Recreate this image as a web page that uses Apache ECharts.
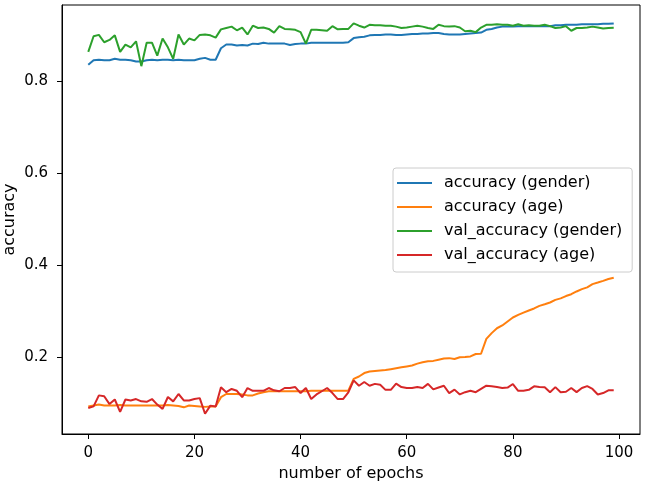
<!DOCTYPE html>
<html>
<head>
<meta charset="utf-8">
<script src="https://cdn.jsdelivr.net/npm/echarts@6/dist/echarts.min.js"></script>
<style>html,body{margin:0;padding:0;background:#fff}#c{width:645px;height:488px}</style>
</head>
<body>
<div id="c"></div>
<script>
const epochs = Array.from({length: 100}, (_, i) => i);
const xTicks = [0, 20, 40, 60, 80, 100];
const yTicks = [0.2, 0.4, 0.6, 0.8];
const seriesNames = ['accuracy (gender)', 'accuracy (age)', 'val_accuracy (gender)', 'val_accuracy (age)'];

const accGender = [0.836,0.846,0.847,0.846,0.846,0.849,0.847,0.847,0.846,0.843,
0.843,0.846,0.847,0.846,0.847,0.847,0.846,0.847,0.846,0.846,
0.846,0.849,0.851,0.847,0.847,0.872,0.880,0.880,0.878,0.879,
0.878,0.882,0.881,0.884,0.882,0.882,0.882,0.882,0.879,0.881,
0.882,0.882,0.884,0.884,0.884,0.884,0.884,0.884,0.884,0.885,
0.894,0.896,0.897,0.900,0.901,0.901,0.902,0.902,0.901,0.901,
0.902,0.903,0.903,0.904,0.904,0.905,0.905,0.903,0.902,0.902,
0.902,0.903,0.904,0.905,0.906,0.912,0.914,0.917,0.919,0.919,
0.919,0.920,0.920,0.920,0.920,0.920,0.920,0.920,0.922,0.922,
0.923,0.923,0.923,0.924,0.924,0.924,0.924,0.925,0.925,0.926];

const accAge = [0.093,0.095,0.097,0.095,0.095,0.095,0.096,0.095,0.095,0.095,
0.095,0.095,0.095,0.095,0.095,0.096,0.095,0.094,0.091,0.095,
0.094,0.093,0.092,0.093,0.093,0.113,0.120,0.120,0.120,0.119,
0.117,0.117,0.121,0.124,0.126,0.126,0.126,0.126,0.126,0.126,
0.126,0.126,0.127,0.127,0.127,0.127,0.127,0.127,0.127,0.127,
0.153,0.158,0.1655,0.169,0.170,0.171,0.172,0.174,0.176,0.178,
0.180,0.182,0.186,0.189,0.191,0.192,0.1945,0.197,0.198,0.196,
0.200,0.2003,0.2018,0.207,0.2076,0.240,0.2524,0.263,0.269,0.2777,
0.2864,0.292,0.297,0.3016,0.306,0.3117,0.3153,0.319,0.3247,0.328,
0.333,0.337,0.343,0.348,0.352,0.359,0.3624,0.366,0.370,0.373];

const valAccGender = [0.864,0.898,0.901,0.885,0.890,0.900,0.864,0.880,0.874,0.887,
0.833,0.884,0.884,0.856,0.893,0.874,0.849,0.902,0.880,0.893,
0.889,0.901,0.902,0.900,0.895,0.913,0.916,0.919,0.911,0.917,
0.902,0.921,0.916,0.917,0.914,0.906,0.920,0.914,0.913,0.912,
0.907,0.882,0.912,0.912,0.911,0.910,0.920,0.913,0.914,0.914,
0.926,0.921,0.917,0.923,0.922,0.922,0.921,0.921,0.919,0.916,
0.917,0.919,0.921,0.919,0.916,0.914,0.923,0.920,0.919,0.920,
0.917,0.909,0.910,0.907,0.917,0.923,0.923,0.924,0.923,0.923,
0.921,0.924,0.921,0.922,0.921,0.921,0.923,0.920,0.916,0.917,
0.920,0.910,0.916,0.916,0.917,0.919,0.917,0.915,0.916,0.9165];

const valAccAge = [0.0896,0.093,0.117,0.115,0.098,0.108,0.081,0.108,0.106,0.109,
0.104,0.103,0.109,0.097,0.0875,0.1135,0.104,0.120,0.106,0.106,
0.109,0.111,0.077,0.0947,0.093,0.1345,0.124,0.131,0.127,0.113,
0.133,0.127,0.127,0.127,0.133,0.128,0.126,0.133,0.133,0.135,
0.122,0.133,0.109,0.119,0.126,0.133,0.122,0.109,0.109,0.1236,
0.1496,0.138,0.146,0.138,0.142,0.140,0.129,0.129,0.1424,0.135,
0.133,0.133,0.135,0.133,0.142,0.130,0.134,0.138,0.122,0.1295,
0.119,0.124,0.127,0.124,0.131,0.138,0.1366,0.135,0.133,0.134,
0.1417,0.127,0.127,0.129,0.1367,0.135,0.1345,0.124,0.135,0.124,
0.125,0.133,0.124,0.133,0.137,0.131,0.119,0.122,0.128,0.128];

const colors = ['#1f77b4', '#ff7f0e', '#2ca02c', '#d62728'];
const allSeries = [accGender, accAge, valAccGender, valAccAge];
const FONT = '"DejaVu Sans", sans-serif';

const chart = echarts.init(document.getElementById('c'), null, {renderer: 'canvas'});
chart.setOption({
  animation: false,
  backgroundColor: '#fff',
  grid: {left: 62, right: 5, top: 5, bottom: 54, containLabel: false, outerBoundsMode: 'none',
         show: true, borderColor: '#000', borderWidth: 1, backgroundColor: 'transparent'},
  xAxis: {
    type: 'value', min: -4.95, max: 103.95,
    name: 'number of epochs', nameLocation: 'middle', nameGap: 32, nameMoveOverlap: false,
    nameTextStyle: {fontFamily: FONT, fontSize: 16, color: '#000'},
    axisLine: {show: true, onZero: false, lineStyle: {color: '#000', width: 1}},
    axisTick: {show: true, inside: false, length: 5, lineStyle: {color: '#000'}, customValues: xTicks},
    axisLabel: {fontFamily: FONT, fontSize: 15, color: '#000', margin: 12, customValues: xTicks},
    splitLine: {show: false}
  },
  yAxis: {
    type: 'value', min: 0.033, max: 0.966,
    name: 'accuracy', nameLocation: 'middle', nameGap: 44, nameRotate: 90, nameMoveOverlap: false,
    nameTextStyle: {fontFamily: FONT, fontSize: 16, color: '#000'},
    axisLine: {show: true, onZero: false, lineStyle: {color: '#000', width: 1}},
    axisTick: {show: true, inside: false, length: 5, lineStyle: {color: '#000'}, customValues: yTicks},
    axisLabel: {fontFamily: FONT, fontSize: 15, color: '#000', margin: 14, customValues: yTicks, formatter: v => v.toFixed(1)},
    splitLine: {show: false}
  },
  legend: {
    orient: 'vertical', left: 393, top: 168,
    data: seriesNames,
    icon: 'rect', itemWidth: 35, itemHeight: 2, itemGap: 4,
    backgroundColor: 'rgba(255,255,255,0.8)', borderColor: '#cccccc', borderWidth: 1, borderRadius: 3,
    padding: [5, 10, 7, 4],
    textStyle: {fontFamily: FONT, fontSize: 16, color: '#000', lineHeight: 20, padding: [0, 0, 0, 7]}
  },
  series: allSeries.map((vals, k) => ({
    name: seriesNames[k], type: 'line', showSymbol: false, symbol: 'none',
    data: epochs.map((e, i) => [e, vals[i]]),
    lineStyle: {color: colors[k], width: 2},
    itemStyle: {color: colors[k]},
    z: 2 + k
  }))
});
</script>
</body>
</html>
